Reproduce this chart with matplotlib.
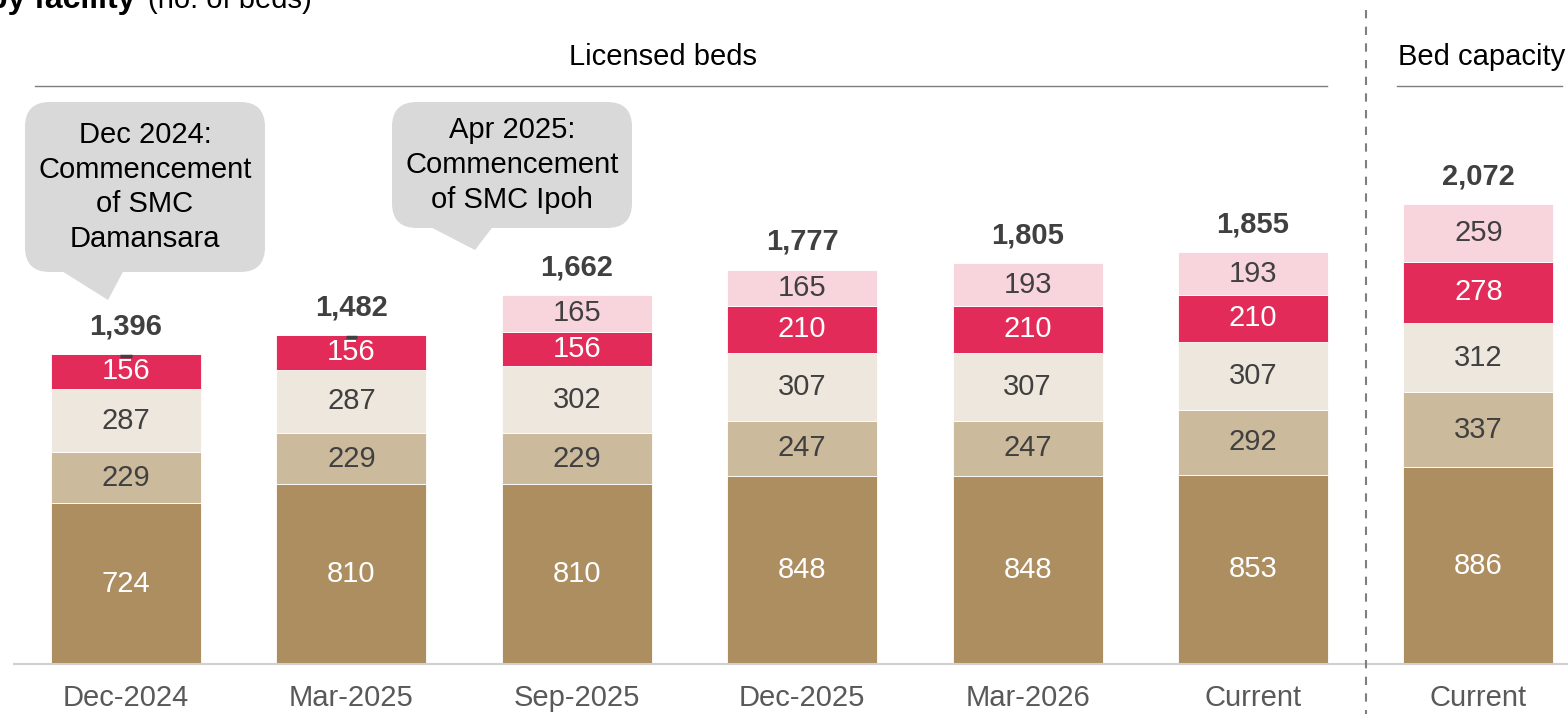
import matplotlib.pyplot as plt
from matplotlib.patches import FancyBboxPatch, Polygon
import numpy as np

plt.rcParams['font.family'] = ['Liberation Sans', 'DejaVu Sans']

categories = ["Dec-2024", "Mar-2025", "Sep-2025", "Dec-2025", "Mar-2026", "Current", "Current"]
hospital_a = [724, 810, 810, 848, 848, 853, 886]
hospital_b = [229, 229, 229, 247, 247, 292, 337]
hospital_c = [287, 287, 302, 307, 307, 307, 312]
hospital_d = [156, 156, 156, 210, 210, 210, 278]
hospital_e = [0, 0, 165, 165, 193, 193, 259]

series = [hospital_a, hospital_b, hospital_c, hospital_d, hospital_e]
colors = ["#AD8E61", "#CCBA9D", "#EEE7DE", "#E22B58", "#F8D4DC"]
text_colors = ["white", "#404040", "#404040", "white", "#404040"]
FS = 21

W, H = 1568, 714
fig = plt.figure(figsize=(W / 100, H / 100), dpi=100)

# axes mapping: baseline at pixel 664, 0.222 px per bed, bar spacing 225.4 px
base_px = 664
ppu = 0.222
x0_px, step_px = 126, 225.4
ax = fig.add_axes([0, (H - base_px) / H, 1, base_px / H])
ax.set_xlim(-x0_px / step_px, (W - x0_px) / step_px)
ax.set_ylim(0, base_px / ppu)
ax.axis("off")


def px_x(p):
    return (p - x0_px) / step_px


def px_y(p):
    return (base_px - p) / ppu


x = np.arange(len(categories))
bottom = np.zeros(len(categories))
for vals, col, tcol in zip(series, colors, text_colors):
    vals = np.array(vals)
    ax.bar(x, vals, bottom=bottom, width=0.665, color=col, edgecolor="white", linewidth=0.6)
    for xi, b, v in zip(x, bottom, vals):
        if v > 0:
            ax.text(xi, b + v / 2, str(v), ha="center", va="center", fontsize=FS, color=tcol)
        else:
            ax.plot([xi - 0.025, xi + 0.025], [b - 8, b - 8], color="#404040", lw=2.5,
                    solid_capstyle="butt")
    bottom += vals

for xi, t in zip(x, bottom):
    ax.text(xi, t + 125, f"{int(t):,}", ha="center", va="center", fontsize=FS,
            fontweight="bold", color="#404040")

# category labels
for xi, c in zip(x, categories):
    ax.text(xi, px_y(698), c, ha="center", va="center", fontsize=FS, color="#595959", clip_on=False)

# baseline
ax.plot([px_x(14), px_x(W)], [0, 0], color="#d0d0d0", lw=1.5, clip_on=False)

# dashed separator
ax.plot([5.5, 5.5], [px_y(10), px_y(H)], color="#7f7f7f", lw=1.5, ls=(0, (4, 4)), clip_on=False)

# section headers
ax.plot([px_x(35), px_x(1327)], [px_y(86)] * 2, color="#7f7f7f", lw=1)
ax.text(px_x(663), px_y(57), "Licensed beds", ha="center", va="center", fontsize=FS, color="black")
ax.plot([px_x(1397), px_x(1562)], [px_y(86)] * 2, color="#7f7f7f", lw=1)
ax.text(px_x(1398), px_y(57), "Bed capacity", ha="left", va="center", fontsize=FS, color="black")

# title (cropped at left/top like the source slide)
fig.text(135 / W, 1 - 8 / H, "Bed capacity by facility", ha="right", va="baseline",
         fontsize=23, fontweight="bold", color="black")
fig.text(148 / W, 1 - 8 / H, "(no. of beds)", ha="left", va="baseline", fontsize=FS, color="black")


def callout(l, r, t, b, tail, text):
    box = FancyBboxPatch((px_x(l), px_y(b)), px_x(r) - px_x(l), px_y(t) - px_y(b),
                         boxstyle="round,pad=0,rounding_size=0.11",
                         mutation_aspect=step_px / ppu,
                         facecolor="#d9d9d9", edgecolor="none", zorder=3)
    ax.add_patch(box)
    tri = Polygon([(px_x(tail[0]), px_y(b) + 1), (px_x(tail[1]), px_y(b) + 1),
                   (px_x(tail[2]), px_y(tail[3]))], closed=True,
                  facecolor="#d9d9d9", edgecolor="none", zorder=3)
    ax.add_patch(tri)
    ax.text((px_x(l) + px_x(r)) / 2, (px_y(t) + px_y(b)) / 2, text, ha="center", va="center",
            fontsize=FS, color="black", linespacing=1.3, zorder=4)


callout(25, 265, 102, 272, (63, 123, 108, 300), "Dec 2024:\nCommencement\nof SMC\nDamansara")
callout(392, 632, 102, 228, (432, 492, 475, 250), "Apr 2025:\nCommencement\nof SMC Ipoh")

fig.savefig("out.png", dpi=100)
